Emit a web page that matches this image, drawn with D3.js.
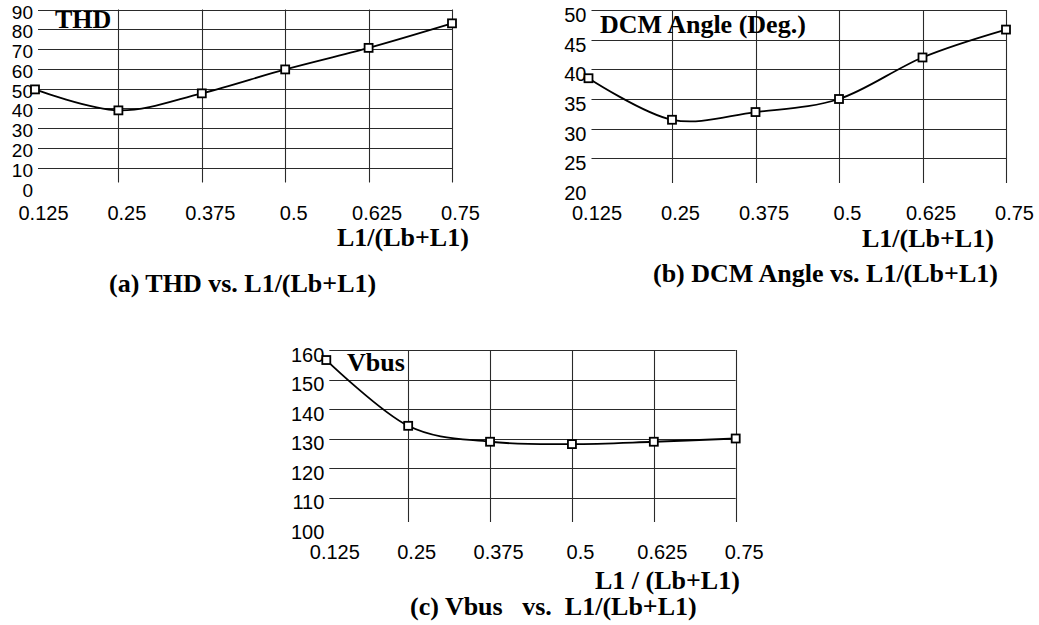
<!DOCTYPE html>
<html>
<head>
<meta charset="utf-8">
<script src="https://cdn.jsdelivr.net/npm/d3@7"></script>
<style>
  body { margin: 0; background: #fff; }
  svg text { white-space: pre; }
</style>
</head>
<body>
<script>
// values

let ratios = [0.125, 0.25, 0.375, 0.5, 0.625, 0.75];
let ratioLabels = ["0.125", "0.25", "0.375", "0.5", "0.625", "0.75"];

let thdValues = [49.6, 39, 47.6, 59.7, 70.6, 83];
let thdTicks = [0, 10, 20, 30, 40, 50, 60, 70, 80, 90];

let dcmValues = [38.5, 31.5, 32.8, 35, 42, 46.7];
let dcmTicks = [20, 25, 30, 35, 40, 45, 50];

let vbusValues = [156.6, 134.3, 128.9, 128.1, 128.9, 130];
let vbusTicks = [100, 110, 120, 130, 140, 150, 160];

let svg = d3.select("body")
    .append("svg")
    .attr("width", 1039)
    .attr("height", 625);

let serif = "'Liberation Serif', 'Times New Roman', serif";
let sans = "'Liberation Sans', Arial, sans-serif";

function drawPanel(p) {
    let x = d3.scaleLinear()
        .domain([ratios[0], ratios[ratios.length - 1]])
        .range([p.left, p.right]);
    let y = d3.scaleLinear()
        .domain([p.ticks[0], p.ticks[p.ticks.length - 1]])
        .range([p.bottom, p.top]);

    let g = svg.append("g");

    // horizontal grid (no line at the lowest tick)
    g.selectAll(".hgrid")
        .data(p.ticks.slice(1))
        .enter()
        .append("line")
        .attr("x1", p.left + 3)
        .attr("x2", p.right)
        .attr("y1", d => Math.round(y(d)) + 0.5)
        .attr("y2", d => Math.round(y(d)) + 0.5)
        .attr("stroke", "#2a2a2a")
        .attr("stroke-width", 1.1);

    // vertical grid (none at first category)
    g.selectAll(".vgrid")
        .data(ratios.slice(1))
        .enter()
        .append("line")
        .attr("x1", d => Math.round(x(d)) + 0.5)
        .attr("x2", d => Math.round(x(d)) + 0.5)
        .attr("y1", p.top)
        .attr("y2", p.bottom - 5)
        .attr("stroke", "#2a2a2a")
        .attr("stroke-width", 1.1);

    // y tick labels
    g.append("g")
        .attr("transform", "translate(" + (p.left - 2) + "," + p.labelDy + ")")
        .call(d3.axisLeft(y).tickValues(p.ticks).tickSize(0).tickPadding(0))
        .call(a => a.select(".domain").remove())
        .attr("font-family", sans)
        .attr("font-size", p.ySize)
        .selectAll("text").attr("fill", "#000");

    // x tick labels
    g.append("g")
        .attr("transform", "translate(8," + (p.bottom + 18) + ")")
        .call(d3.axisBottom(x).tickValues(ratios).tickFormat((d, i) => ratioLabels[i]).tickSize(0).tickPadding(0))
        .call(a => a.select(".domain").remove())
        .attr("font-family", sans)
        .attr("font-size", 20)
        .selectAll("text").attr("fill", "#000");

    let line = d3.line()
        .x((d, i) => x(ratios[i]))
        .y(d => y(d))
        .curve(d3.curveCardinal.tension(0));

    g.append("path")
        .datum(p.values)
        .attr("d", line)
        .attr("fill", "none")
        .attr("stroke", "#000")
        .attr("stroke-width", 1.8);

    g.selectAll(".marker")
        .data(p.values)
        .enter()
        .append("rect")
        .attr("x", (d, i) => x(ratios[i]) - 4)
        .attr("y", d => y(d) - 4)
        .attr("width", 8)
        .attr("height", 8)
        .attr("fill", "#fff")
        .attr("stroke", "#000")
        .attr("stroke-width", 1.8);

    // titles and captions
    g.append("text")
        .attr("x", p.title[1]).attr("y", p.title[2])
        .attr("font-family", serif).attr("font-weight", "bold").attr("font-size", 26)
        .text(p.title[0]);

    g.append("text")
        .attr("x", p.xlabel[1]).attr("y", p.xlabel[2])
        .attr("font-family", serif).attr("font-weight", "bold").attr("font-size", 26)
        .text(p.xlabel[0]);

    g.append("text")
        .attr("x", p.caption[1]).attr("y", p.caption[2])
        .attr("font-family", serif).attr("font-weight", "bold").attr("font-size", 26)
        .text(p.caption[0]);
}

drawPanel({
    values: thdValues, ticks: thdTicks, ySize: 19,
    left: 35, right: 452, top: 9.5, bottom: 187.5, labelDy: 2.5,
    title: ["THD", 55, 28],
    xlabel: ["L1/(Lb+L1)", 337, 246],
    caption: ["(a) THD vs. L1/(Lb+L1)", 109, 292]
});

drawPanel({
    values: dcmValues, ticks: dcmTicks, ySize: 20,
    left: 588.5, right: 1006, top: 10, bottom: 188, labelDy: 5,
    title: ["DCM Angle (Deg.)", 600, 33],
    xlabel: ["L1/(Lb+L1)", 862, 247],
    caption: ["(b) DCM Angle vs. L1/(Lb+L1)", 653, 282]
});

drawPanel({
    values: vbusValues, ticks: vbusTicks, ySize: 20,
    left: 326.3, right: 735.7, top: 350, bottom: 527, labelDy: 5,
    title: ["Vbus", 347, 371],
    xlabel: ["L1 / (Lb+L1)", 595, 589],
    caption: ["(c) Vbus   vs.  L1/(Lb+L1)", 410, 615]
});
</script>
</body>
</html>
